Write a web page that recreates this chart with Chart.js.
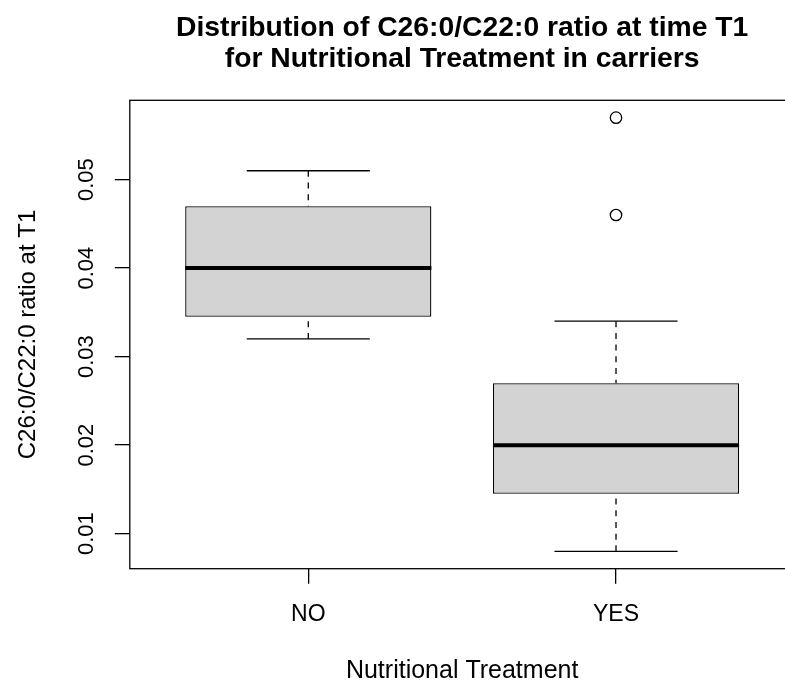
<!DOCTYPE html>
<html>
<head>
<meta charset="utf-8">
<script src="https://cdn.jsdelivr.net/npm/chart.js@4.4.1/dist/chart.umd.min.js"></script>
<style>
  html, body { margin: 0; padding: 0; background: #fff; overflow: hidden; }
  canvas { display: block; }
</style>
</head>
<body>
<canvas id="boxChart" width="810" height="687"></canvas>
<script>
var categories = ["NO", "YES"];
var whiskerLow = [0.032, 0.008];
var lowerQuartile = [0.0345, 0.0145];
var medians = [0.040, 0.020];
var upperQuartile = [0.047, 0.027];
var whiskerHigh = [0.051, 0.034];
var outliers = [[], [0.046, 0.057]];
var yTicks = [0.01, 0.02, 0.03, 0.04, 0.05];
var yTickLabels = ["0.01", "0.02", "0.03", "0.04", "0.05"];

// R-style axis limits: 4% extension of the data range
var allValues = whiskerLow.concat(whiskerHigh, outliers[0], outliers[1]);
var lo = Math.min.apply(null, allValues);
var hi = Math.max.apply(null, allValues);
var yMin = lo - 0.04 * (hi - lo);
var yMax = hi + 0.04 * (hi - lo);
var xMin = 0.5 - 0.04 * categories.length;
var xMax = categories.length + 0.5 + 0.04 * categories.length;

var boxes = categories.map(function (c, i) {
  return { x: i + 1, y: [lowerQuartile[i], upperQuartile[i]] };
});
var outlierPoints = [];
outliers.forEach(function (arr, i) {
  arr.forEach(function (v) { outlierPoints.push({ x: i + 1, y: v }); });
});

// whiskers, caps, medians and the plot frame
var boxParts = {
  id: "boxParts",
  afterDatasetsDraw: function (chart) {
    var ctx = chart.ctx;
    var xs = chart.scales.x;
    var ys = chart.scales.y;
    var a = chart.chartArea;
    function seg(x1, y1, x2, y2) {
      ctx.beginPath();
      ctx.moveTo(x1, y1);
      ctx.lineTo(x2, y2);
      ctx.stroke();
    }
    ctx.save();
    ctx.strokeStyle = "#000";
    ctx.lineCap = "butt";
    categories.forEach(function (c, i) {
      var cx = xs.getPixelForValue(i + 1);
      var capHalf = xs.getPixelForValue(i + 1.2) - cx;
      var boxHalf = xs.getPixelForValue(i + 1.4) - cx;
      ctx.lineWidth = 1.3;
      ctx.setLineDash([6, 5.7]);
      seg(cx, ys.getPixelForValue(whiskerLow[i]), cx, ys.getPixelForValue(lowerQuartile[i]));
      seg(cx, ys.getPixelForValue(whiskerHigh[i]), cx, ys.getPixelForValue(upperQuartile[i]));
      ctx.setLineDash([]);
      seg(cx - capHalf, ys.getPixelForValue(whiskerLow[i]), cx + capHalf, ys.getPixelForValue(whiskerLow[i]));
      seg(cx - capHalf, ys.getPixelForValue(whiskerHigh[i]), cx + capHalf, ys.getPixelForValue(whiskerHigh[i]));
      ctx.lineWidth = 4;
      seg(cx - boxHalf, ys.getPixelForValue(medians[i]), cx + boxHalf, ys.getPixelForValue(medians[i]));
    });
    ctx.lineWidth = 1.3;
    ctx.strokeRect(a.left, a.top, a.right - a.left, a.bottom - a.top);
    ctx.restore();
  }
};

Chart.defaults.font.family = "'Liberation Sans', Arial, sans-serif";
Chart.defaults.color = "#000";

var ctx = document.getElementById("boxChart").getContext("2d");
var boxChart = new Chart(ctx, {
  type: "bar",
  data: {
    datasets: [
      {
        data: boxes,
        backgroundColor: "#d3d3d3",
        borderColor: "#000",
        borderWidth: 1.3,
        borderSkipped: false,
        barPercentage: 1,
        categoryPercentage: 0.8
      },
      {
        type: "scatter",
        data: outlierPoints,
        pointRadius: 5.7,
        pointBorderWidth: 1.3,
        pointBorderColor: "#000",
        pointBackgroundColor: "rgba(0,0,0,0)"
      }
    ]
  },
  options: {
    responsive: false,
    animation: false,
    layout: { padding: { left: 0, right: 15.5, top: 0, bottom: 0 } },
    plugins: {
      legend: { display: false },
      tooltip: { enabled: false },
      title: {
        display: true,
        fullSize: false,
        text: ["Distribution of C26:0/C22:0 ratio at time T1", "for Nutritional Treatment in carriers"],
        font: { size: 28.3, weight: "bold", lineHeight: 31 / 28.3 },
        padding: { top: 13, bottom: 25.3 }
      }
    },
    scales: {
      x: {
        type: "linear",
        min: xMin,
        max: xMax,
        offset: false,
        afterBuildTicks: function (axis) {
          axis.ticks = categories.map(function (c, i) { return { value: i + 1 }; });
        },
        afterFit: function (axis) { axis.height = 118.3; },
        ticks: {
          font: { size: 23 },
          padding: 17,
          callback: function (value) { return categories[value - 1]; }
        },
        grid: { offset: false, drawOnChartArea: false, drawTicks: true, tickLength: 15, color: "#000", lineWidth: 1.3 },
        border: { display: false },
        title: {
          display: true,
          text: "Nutritional Treatment",
          font: { size: 25 },
          padding: { top: 0, bottom: 0.4 }
        }
      },
      y: {
        min: yMin,
        max: yMax,
        afterBuildTicks: function (axis) {
          axis.ticks = yTicks.map(function (v) { return { value: v }; });
        },
        afterFit: function (axis) { axis.width = 129.8; },
        ticks: {
          font: { size: 22 },
          minRotation: 90,
          maxRotation: 90,
          crossAlign: "center",
          padding: 6.4,
          callback: function (value, index) { return yTickLabels[index]; }
        },
        grid: { drawOnChartArea: false, drawTicks: true, tickLength: 15, color: "#000", lineWidth: 1.3 },
        border: { display: false },
        title: {
          display: true,
          text: "C26:0/C22:0 ratio at T1",
          font: { size: 24 },
          padding: { top: 14.1, bottom: 0 }
        }
      }
    }
  },
  plugins: [boxParts]
});
</script>
</body>
</html>
